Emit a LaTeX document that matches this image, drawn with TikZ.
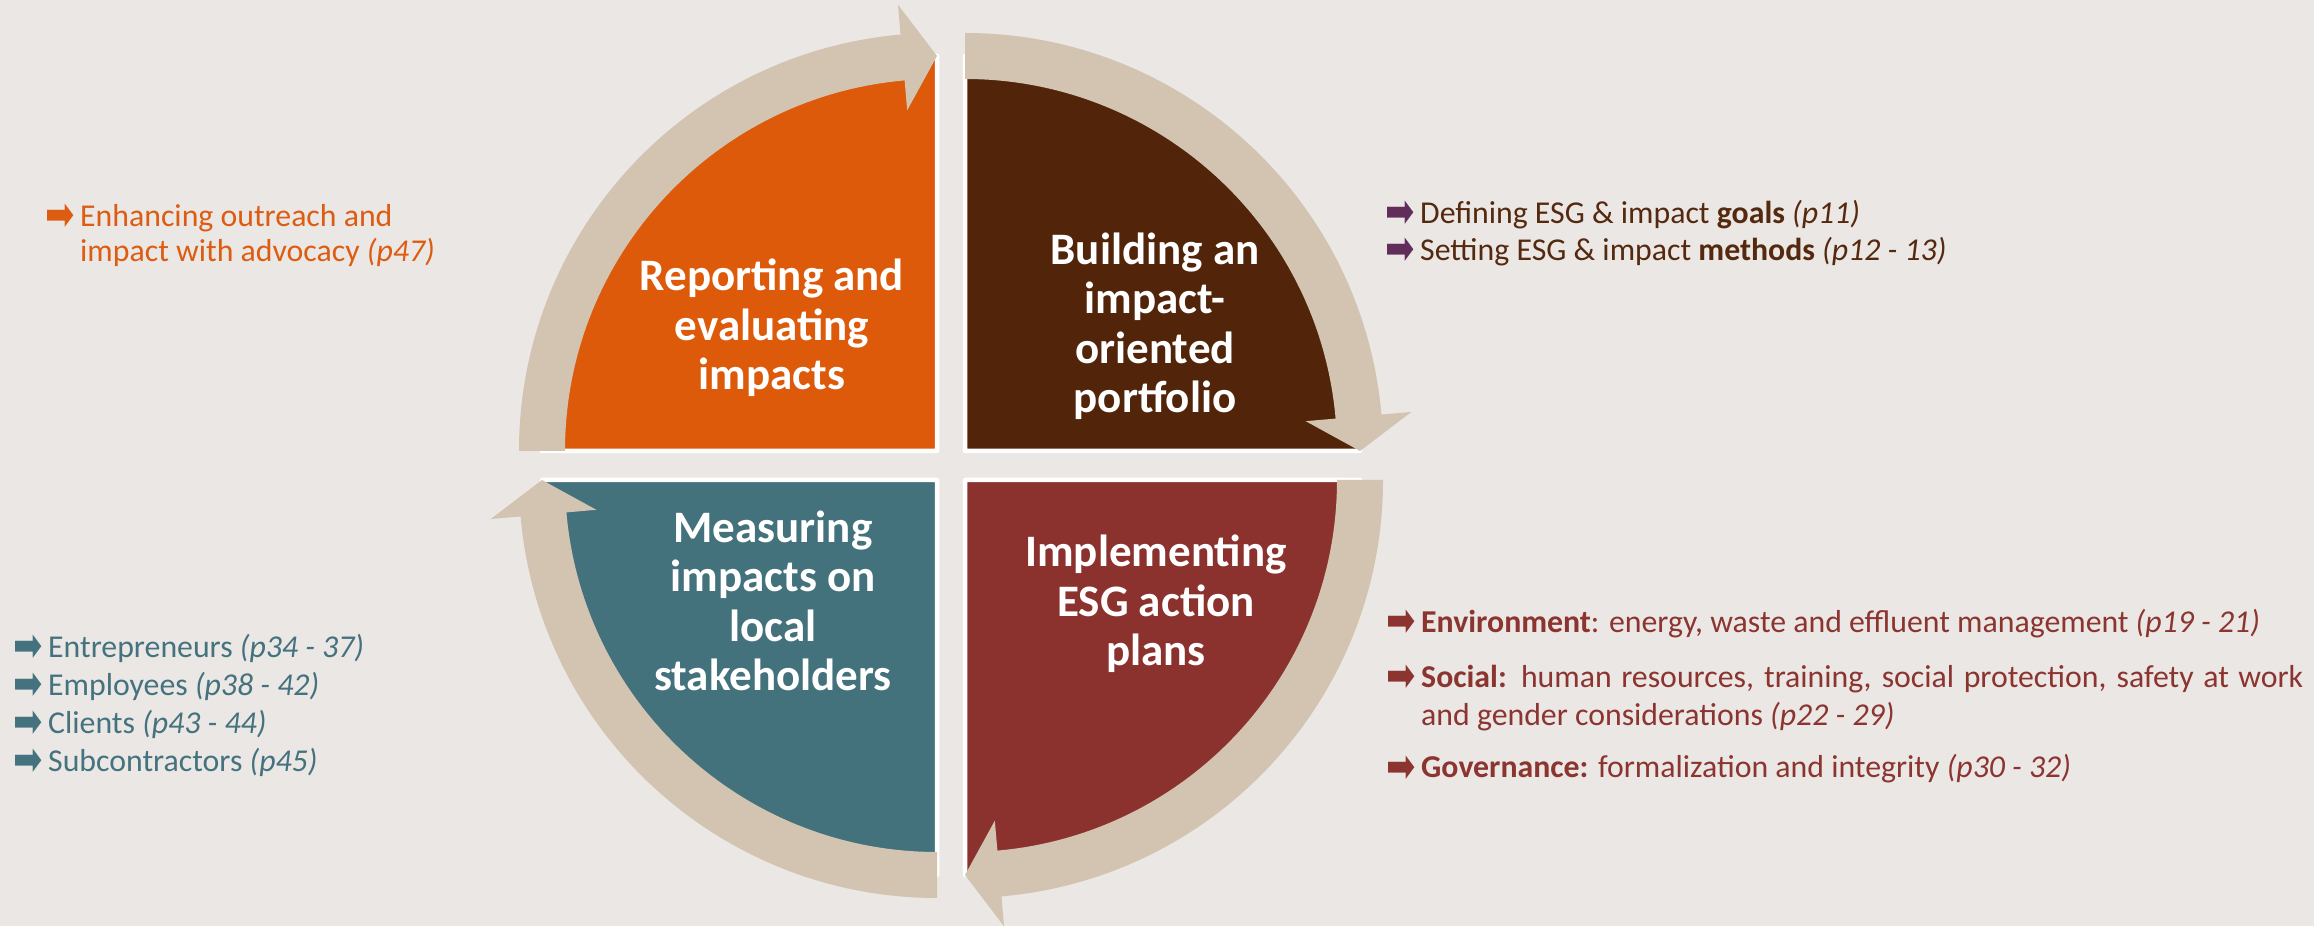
\documentclass[tikz,border=0pt]{standalone}
\usepackage{fontspec}
\setmainfont{Carlito}
\newfontfamily\arrfont{DejaVu Sans}
\usetikzlibrary{calc}
\definecolor{bg}{HTML}{EBE7E4}
\definecolor{ringc}{HTML}{D2C4B0}
\definecolor{qorange}{HTML}{DD5A0A}
\definecolor{qbrown}{HTML}{52250A}
\definecolor{qred}{HTML}{8C322E}
\definecolor{qteal}{HTML}{43727D}
\definecolor{torange}{HTML}{DC5C12}
\definecolor{tbrown}{HTML}{55290F}
\definecolor{tpurple}{HTML}{612D5A}
\definecolor{tred}{HTML}{8B3430}
\definecolor{tteal}{HTML}{44727E}
\tikzset{
  quad/.style={draw=white, line width=4.5pt, line join=round},
  ringpart/.style={fill=ringc},
  qlabel/.style={text=white, font=\fontsize{45}{49.5}\selectfont\bfseries, align=center, anchor=base, inner sep=0pt},
  side/.style={font=\fontsize{31.8}{37}\selectfont, align=left, anchor=base west, inner sep=0pt},
}
\newcommand\bul[1]{\makebox[34pt][l]{\hspace*{-1pt}\raisebox{-4pt}{\scalebox{1}[1.35]{\arrfont\fontsize{35}{35}\selectfont\color{#1}➡}}}}
\begin{document}
\begin{tikzpicture}[x=1pt,y=1pt]
\fill[bg] (0,0) rectangle (2314,926);
\useasboundingbox (0,0) rectangle (2314,926);
% quadrants
\filldraw[quad, fill=qorange] (937,475) -- ++(-395,0) arc[start angle=180,end angle=90,radius=395] -- cycle;
\filldraw[quad, fill=qbrown] (965,475) -- ++(0,395) arc[start angle=90,end angle=0,radius=395] -- cycle;
\filldraw[quad, fill=qred] (965,446) -- ++(395,0) arc[start angle=0,end angle=-90,radius=395] -- cycle;
\filldraw[quad, fill=qteal] (937,446) -- ++(0,-395) arc[start angle=270,end angle=180,radius=395] -- cycle;
% ring arrows
\fill[ringpart, shift={(937,475)}] (180:372) arc[start angle=180,end angle=95,radius=372] -- (95:342) -- (90:395) -- (95:448) -- (95:418) arc[start angle=95,end angle=180,radius=418] -- cycle;
\fill[ringpart, shift={(965,475)}] (90:372) arc[start angle=90,end angle=5,radius=372] -- (5:342) -- (0:395) -- (5:448) -- (5:418) arc[start angle=5,end angle=90,radius=418] -- cycle;
\fill[ringpart, shift={(965,446)}] (0:372) arc[start angle=0,end angle=-85,radius=372] -- (-85:342) -- (-90:395) -- (-85:448) -- (-85:418) arc[start angle=-85,end angle=0,radius=418] -- cycle;
\fill[ringpart, shift={(937,446)}] (270:372) arc[start angle=270,end angle=185,radius=372] -- (185:342) -- (180:395) -- (185:448) -- (185:418) arc[start angle=185,end angle=270,radius=418] -- cycle;
% quadrant labels (anchor = baseline of last line)
\node[qlabel] (t1) at (772,536) {Reporting and\\evaluating\\impacts};
\node[qlabel] (t2) at (1155,513) {Building an\\impact-\\oriented\\portfolio};
\node[qlabel] (t3) at (1156,260) {Implementing\\ESG action\\plans};
\node[qlabel] (t4) at (773,235) {Measuring\\impacts on\\local\\stakeholders};
% side texts (anchor = baseline of last line)
\node[side, text=torange, font=\fontsize{31.8}{35.5}\selectfont] (s1) at (46,664) {\bul{torange}Enhancing outreach and\\\hspace*{34pt}impact with advocacy \textit{(p47)}};
\node[side, text=tbrown] (s2) at (1386,665) {\bul{tpurple}Defining ESG \& impact \textbf{goals} \textit{(p11)}\\\bul{tpurple}Setting ESG \& impact \textbf{methods} \textit{(p12 - 13)}};
\node[side, text=tteal, font=\fontsize{31.8}{38.3}\selectfont] (s3) at (14,154) {\bul{tteal}Entrepreneurs \textit{(p34 - 37)}\\\bul{tteal}Employees \textit{(p38 - 42)}\\\bul{tteal}Clients \textit{(p43 - 44)}\\\bul{tteal}Subcontractors \textit{(p45)}};
\node[side, text=tred, font=\fontsize{31.8}{38}\selectfont] (s4) at (1387,148) {\bul{tred}\textbf{Environment}: energy, waste and effluent management \textit{(p19 - 21)}\\[17pt]\bul{tred}\makebox[882pt][s]{\textbf{Social:} human resources, training, social protection, safety at work}\\\hspace*{34pt}and gender considerations \textit{(p22 - 29)}\\[14pt]\bul{tred}\textbf{Governance:} formalization and integrity \textit{(p30 - 32)}};
\end{tikzpicture}
\end{document}
